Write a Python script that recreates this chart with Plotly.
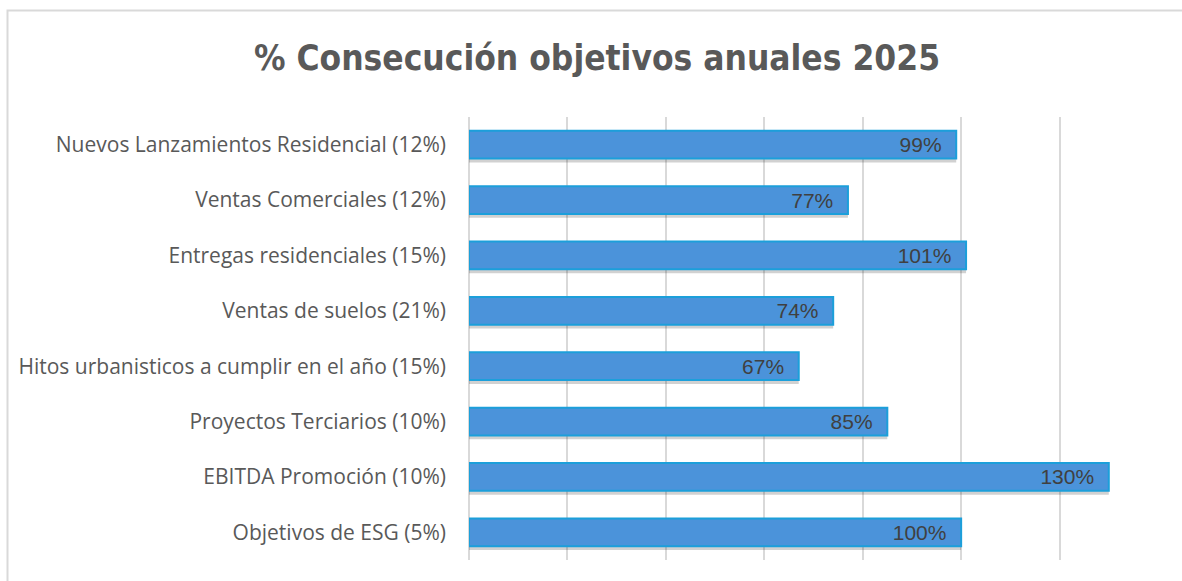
import plotly.graph_objects as go

categories = [
    "Nuevos Lanzamientos Residencial (12%)",
    "Ventas Comerciales (12%)",
    "Entregas residenciales (15%)",
    "Ventas de suelos (21%)",
    "Hitos urbanisticos a cumplir en el año (15%)",
    "Proyectos Terciarios (10%)",
    "EBITDA Promoción (10%)",
    "Objetivos de ESG (5%)",
]
values = [99, 77, 101, 74, 67, 85, 130, 100]
title_text = "% Consecución objetivos anuales 2025"

W, H = 1182, 581
L, R, T, B = 469, 24, 117, 21
pw, ph = W - L - R, H - T - B

fig = go.Figure()

# soft shadow under bars
fig.add_trace(go.Bar(
    y=categories, x=values, orientation="h",
    width=0.5, offset=-0.25 + 0.07,
    marker=dict(color="rgba(0,0,0,0.18)", line=dict(width=0)),
    hoverinfo="skip", showlegend=False,
))

fig.add_trace(go.Bar(
    y=categories, x=values, orientation="h",
    width=0.5, offset=-0.25,
    marker=dict(color="#4B93DA", line=dict(color="#1C9FDA", width=2)),
    text=[f"{v}%\u00a0\u00a0" for v in values],
    textposition="inside", insidetextanchor="end", constraintext="none",
    textfont=dict(family="Liberation Sans, Arial, sans-serif", size=21, color="#404040"),
    showlegend=False,
))

fig.update_layout(
    width=W, height=H,
    margin=dict(l=L, r=R, t=T, b=B, pad=0),
    paper_bgcolor="white", plot_bgcolor="white",
    barmode="overlay",
    title=dict(
        text=f"<b>{title_text}</b>",
        x=597 / W, xref="container", xanchor="center",
        y=1 - 58 / H, yref="container", yanchor="middle",
        font=dict(family="DejaVu Sans Condensed, Liberation Sans Narrow, Arial Narrow, sans-serif",
                  size=35, color="#595959"),
    ),
    xaxis=dict(
        range=[0, 140], dtick=20, showticklabels=False,
        showgrid=True, gridcolor="#D9D9D9", gridwidth=1.5,
        zeroline=True, zerolinecolor="#D9D9D9", zerolinewidth=1.5,
        showline=False, fixedrange=True,
    ),
    yaxis=dict(
        autorange="reversed", showgrid=False, showline=False,
        ticklabelstandoff=22,
        tickfont=dict(family="Open Sans, Lato, sans-serif", size=21, color="#595959"),
    ),
    shapes=[dict(
        type="rect", xref="paper", yref="paper", layer="below",
        x0=(7.5 - L) / pw, x1=(W + 10 - L) / pw,
        y0=(H - T - (H + 10)) / ph, y1=(H - B - 10.5) / ph,
        line=dict(color="#D9D9D9", width=2), fillcolor="rgba(0,0,0,0)",
    )],
)

fig.write_html("out.html", config={"displayModeBar": False},
               post_script="document.body.style.margin='0';")
